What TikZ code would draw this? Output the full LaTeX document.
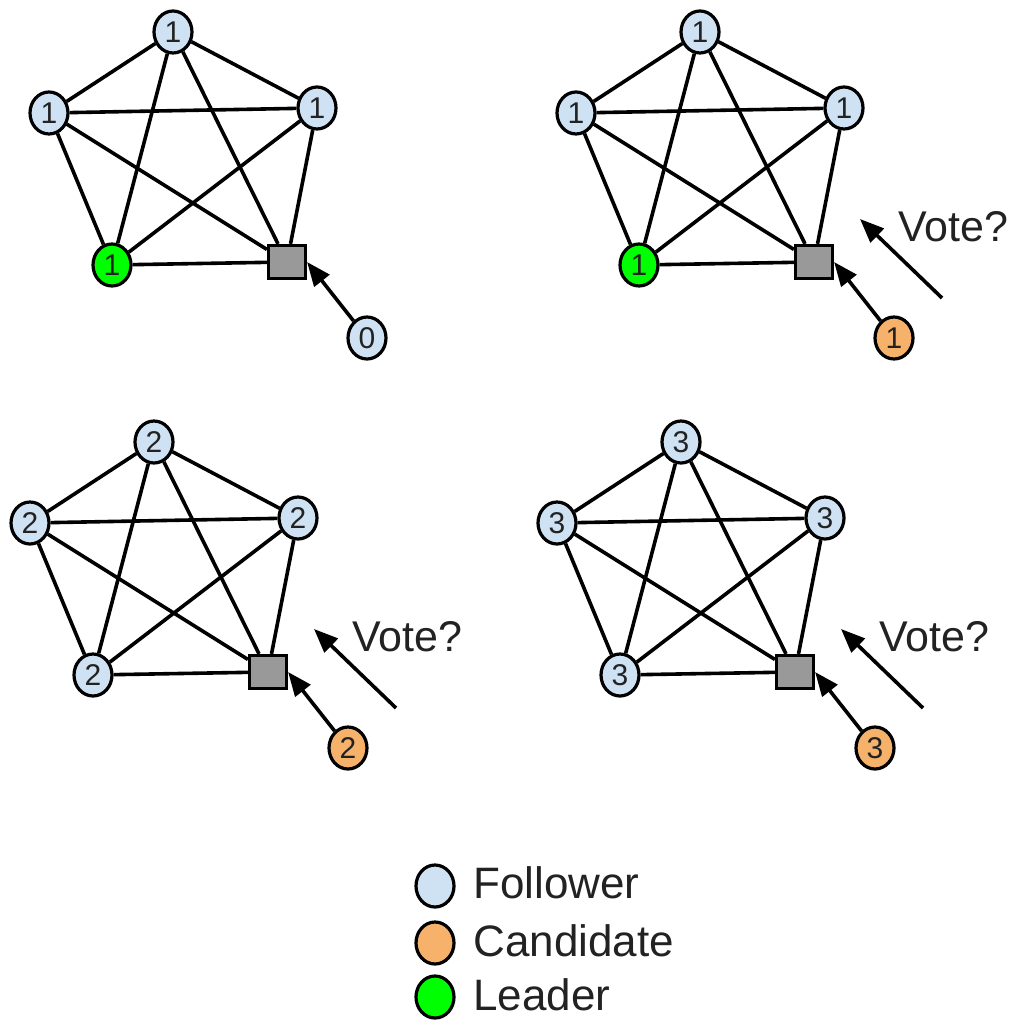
\documentclass[tikz,border=0pt]{standalone}
\usepackage{fontspec}
\setmainfont{Liberation Sans}
\usepackage{xcolor}
\usepackage{tikz}
\usetikzlibrary{positioning,arrows.meta,shapes.geometric}

\definecolor{follow}{HTML}{CFE2F3}
\definecolor{cand}{HTML}{F6B26B}
\definecolor{lead}{HTML}{00FF00}
\definecolor{box}{HTML}{999999}
\definecolor{ink}{HTML}{222222}

\tikzset{
	peer/.style={ellipse,draw,line width=1.6pt,minimum width=19pt,minimum height=21pt,inner sep=0pt,text=ink,font=\fontsize{15}{15}\selectfont},
	follower/.style={peer,fill=follow},
	candidate/.style={peer,fill=cand},
	leader/.style={peer,fill=lead},
	server/.style={rectangle,draw,line width=1.6pt,fill=box,minimum width=18.5pt,minimum height=16.5pt,inner sep=0pt},
	edge/.style={line width=1.8pt},
	ask/.style={line width=1.8pt,-{Triangle[length=12pt,width=9.5pt]}},
	votetext/.style={text=ink,font=\fontsize{21.5}{24}\selectfont},
	keytext/.style={anchor=west,inner sep=0pt,text=ink,font=\fontsize{22}{24}\selectfont}
}

\begin{document}
\begin{tikzpicture}[x=0.5pt,y=-0.5pt]
		\useasboundingbox (0,0) rectangle (1019,1027);
		% term 1, old server comes back
		\begin{scope}
		\node[follower] (a-top) at (173,32) {1};
		\node[follower] (a-lft) at (49,113) {1};
		\node[follower] (a-rgt) at (317,108) {1};
		\node[leader] (a-low) at (112,265) {1};
		\node[server] (a-sq) at (287,262) {};
		\node[follower] (a-new) at (367,338) {0};
		\draw[ask] (a-new) -- (a-sq.east);
		\end{scope}
		% term 1, candidate asks
		\begin{scope}[shift={(527,0)}]
		\node[follower] (b-top) at (173,32) {1};
		\node[follower] (b-lft) at (49,113) {1};
		\node[follower] (b-rgt) at (317,108) {1};
		\node[leader] (b-low) at (112,265) {1};
		\node[server] (b-sq) at (287,262) {};
		\node[candidate] (b-new) at (367,338) {1};
		\draw[ask] (b-new) -- (b-sq.east);
		\coordinate (b-from) at (415,298);
		\coordinate (b-to) at (333,219);
		\draw[ask] (b-from) -- (b-to);
		\node[votetext] (b-vote) at (426,227) {Vote?};
		\end{scope}
		% term 2
		\begin{scope}[shift={(-19,410)}]
		\node[follower] (c-top) at (173,32) {2};
		\node[follower] (c-lft) at (49,113) {2};
		\node[follower] (c-rgt) at (317,108) {2};
		\node[follower] (c-low) at (112,265) {2};
		\node[server] (c-sq) at (287,262) {};
		\node[candidate] (c-new) at (367,338) {2};
		\draw[ask] (c-new) -- (c-sq.east);
		\coordinate (c-from) at (415,298);
		\coordinate (c-to) at (333,219);
		\draw[ask] (c-from) -- (c-to);
		\node[votetext] (c-vote) at (426,227) {Vote?};
		\end{scope}
		% term 3
		\begin{scope}[shift={(508,410)}]
		\node[follower] (d-top) at (173,32) {3};
		\node[follower] (d-lft) at (49,113) {3};
		\node[follower] (d-rgt) at (317,108) {3};
		\node[follower] (d-low) at (112,265) {3};
		\node[server] (d-sq) at (287,262) {};
		\node[candidate] (d-new) at (367,338) {3};
		\draw[ask] (d-new) -- (d-sq.east);
		\coordinate (d-from) at (415,298);
		\coordinate (d-to) at (333,219);
		\draw[ask] (d-from) -- (d-to);
		\node[votetext] (d-vote) at (426,227) {Vote?};
		\end{scope}
		% full mesh in every panel
		\foreach \p in {a,b,c,d}
		\foreach \u/\v in {top/lft,top/rgt,top/low,top/sq,lft/rgt,lft/low,lft/sq,rgt/low,rgt/sq,low/sq}
		\draw[edge] (\p-\u) -- (\p-\v);
		% legend
		\node[follower] (key-f) at (435,886) {};
		\node[candidate] (key-c) at (435,943) {};
		\node[leader] (key-l) at (435,997) {};
		\node[keytext] (key-f-txt) at (473,883) {Follower};
		\node[keytext] (key-c-txt) at (473,941) {Candidate};
		\node[keytext] (key-l-txt) at (473,995) {Leader};
	\end{tikzpicture}
\end{document}
